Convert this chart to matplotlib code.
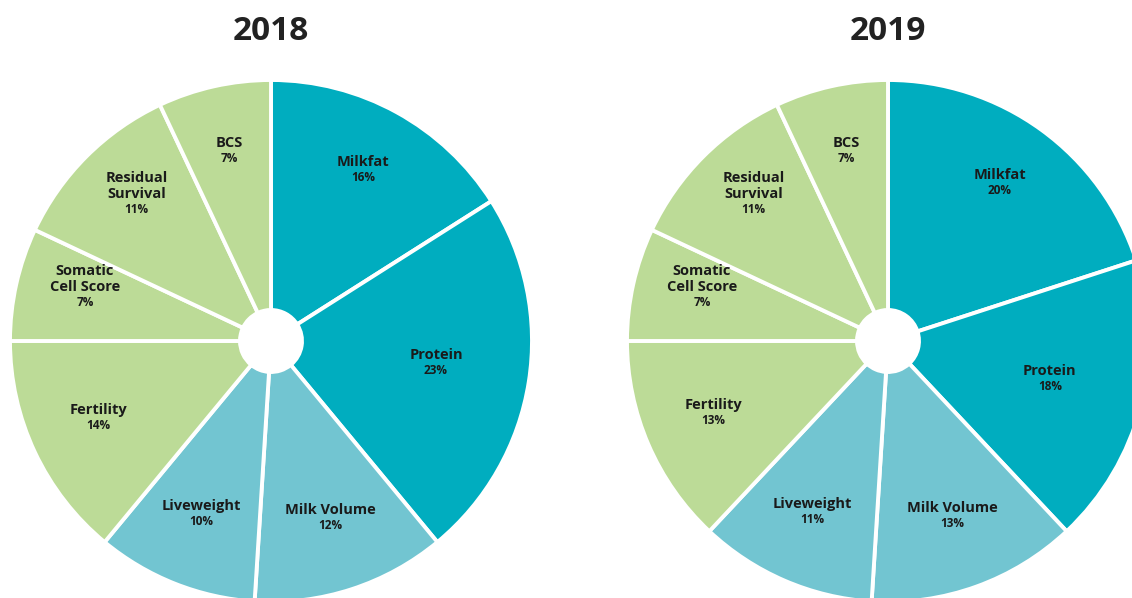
import numpy as np
import matplotlib.pyplot as plt

# breeding worth weightings, clockwise from 12 o'clock
categories = ["Milkfat", "Protein", "Milk Volume", "Liveweight", "Fertility",
              "Somatic\nCell Score", "Residual\nSurvival", "BCS"]
values_2018 = [16, 23, 12, 10, 14, 7, 11, 7]
values_2019 = [20, 18, 13, 11, 13, 7, 11, 7]
years = ["2018", "2019"]

dark_teal = "#00adbf"
light_teal = "#72c5d1"
green = "#bcdb97"
colors = [dark_teal, dark_teal, light_teal, light_teal, green, green, green, green]

W, H = 1132, 598
fig = plt.figure(figsize=(W / 100, H / 100), dpi=100)
ax = fig.add_axes([0, 0, 1, 1])
ax.set_aspect("equal")
ax.axis("off")

R = 261
hole = 31
centers = [(271, H - 341), (888, H - 341)]

for year, vals, (cx, cy) in zip(years, [values_2018, values_2019], centers):
    ax.pie(vals, colors=colors, startangle=90, counterclock=False,
           center=(cx, cy), radius=R,
           wedgeprops=dict(width=R - hole, edgecolor="white", linewidth=2.8))
    ax.text(cx, H - 32, year, ha="center", va="center", fontsize=24,
            fontweight="bold", color="#222222", family="Open Sans")

    # labels at the middle of each wedge
    total = sum(vals)
    start = 90.0
    for name, v in zip(categories, vals):
        span = 360.0 * v / total
        mid = np.deg2rad(start - span / 2)
        start -= span
        rf = 0.64 if name == "Protein" else 0.73
        lx = cx + rf * R * np.cos(mid)
        ly = cy + rf * R * np.sin(mid) + 4
        ax.text(lx, ly + 1, name, ha="center", va="bottom",
                fontsize=10.5, fontweight="bold", color="#1a1a1a",
                family="Open Sans", linespacing=1.2)
        ax.text(lx, ly - 1, f"{v}%", ha="center", va="top",
                fontsize=8.5, fontweight="bold", color="#1a1a1a",
                family="Open Sans")

ax.set_xlim(0, W)
ax.set_ylim(0, H)
fig.savefig("out.png", dpi=100)
